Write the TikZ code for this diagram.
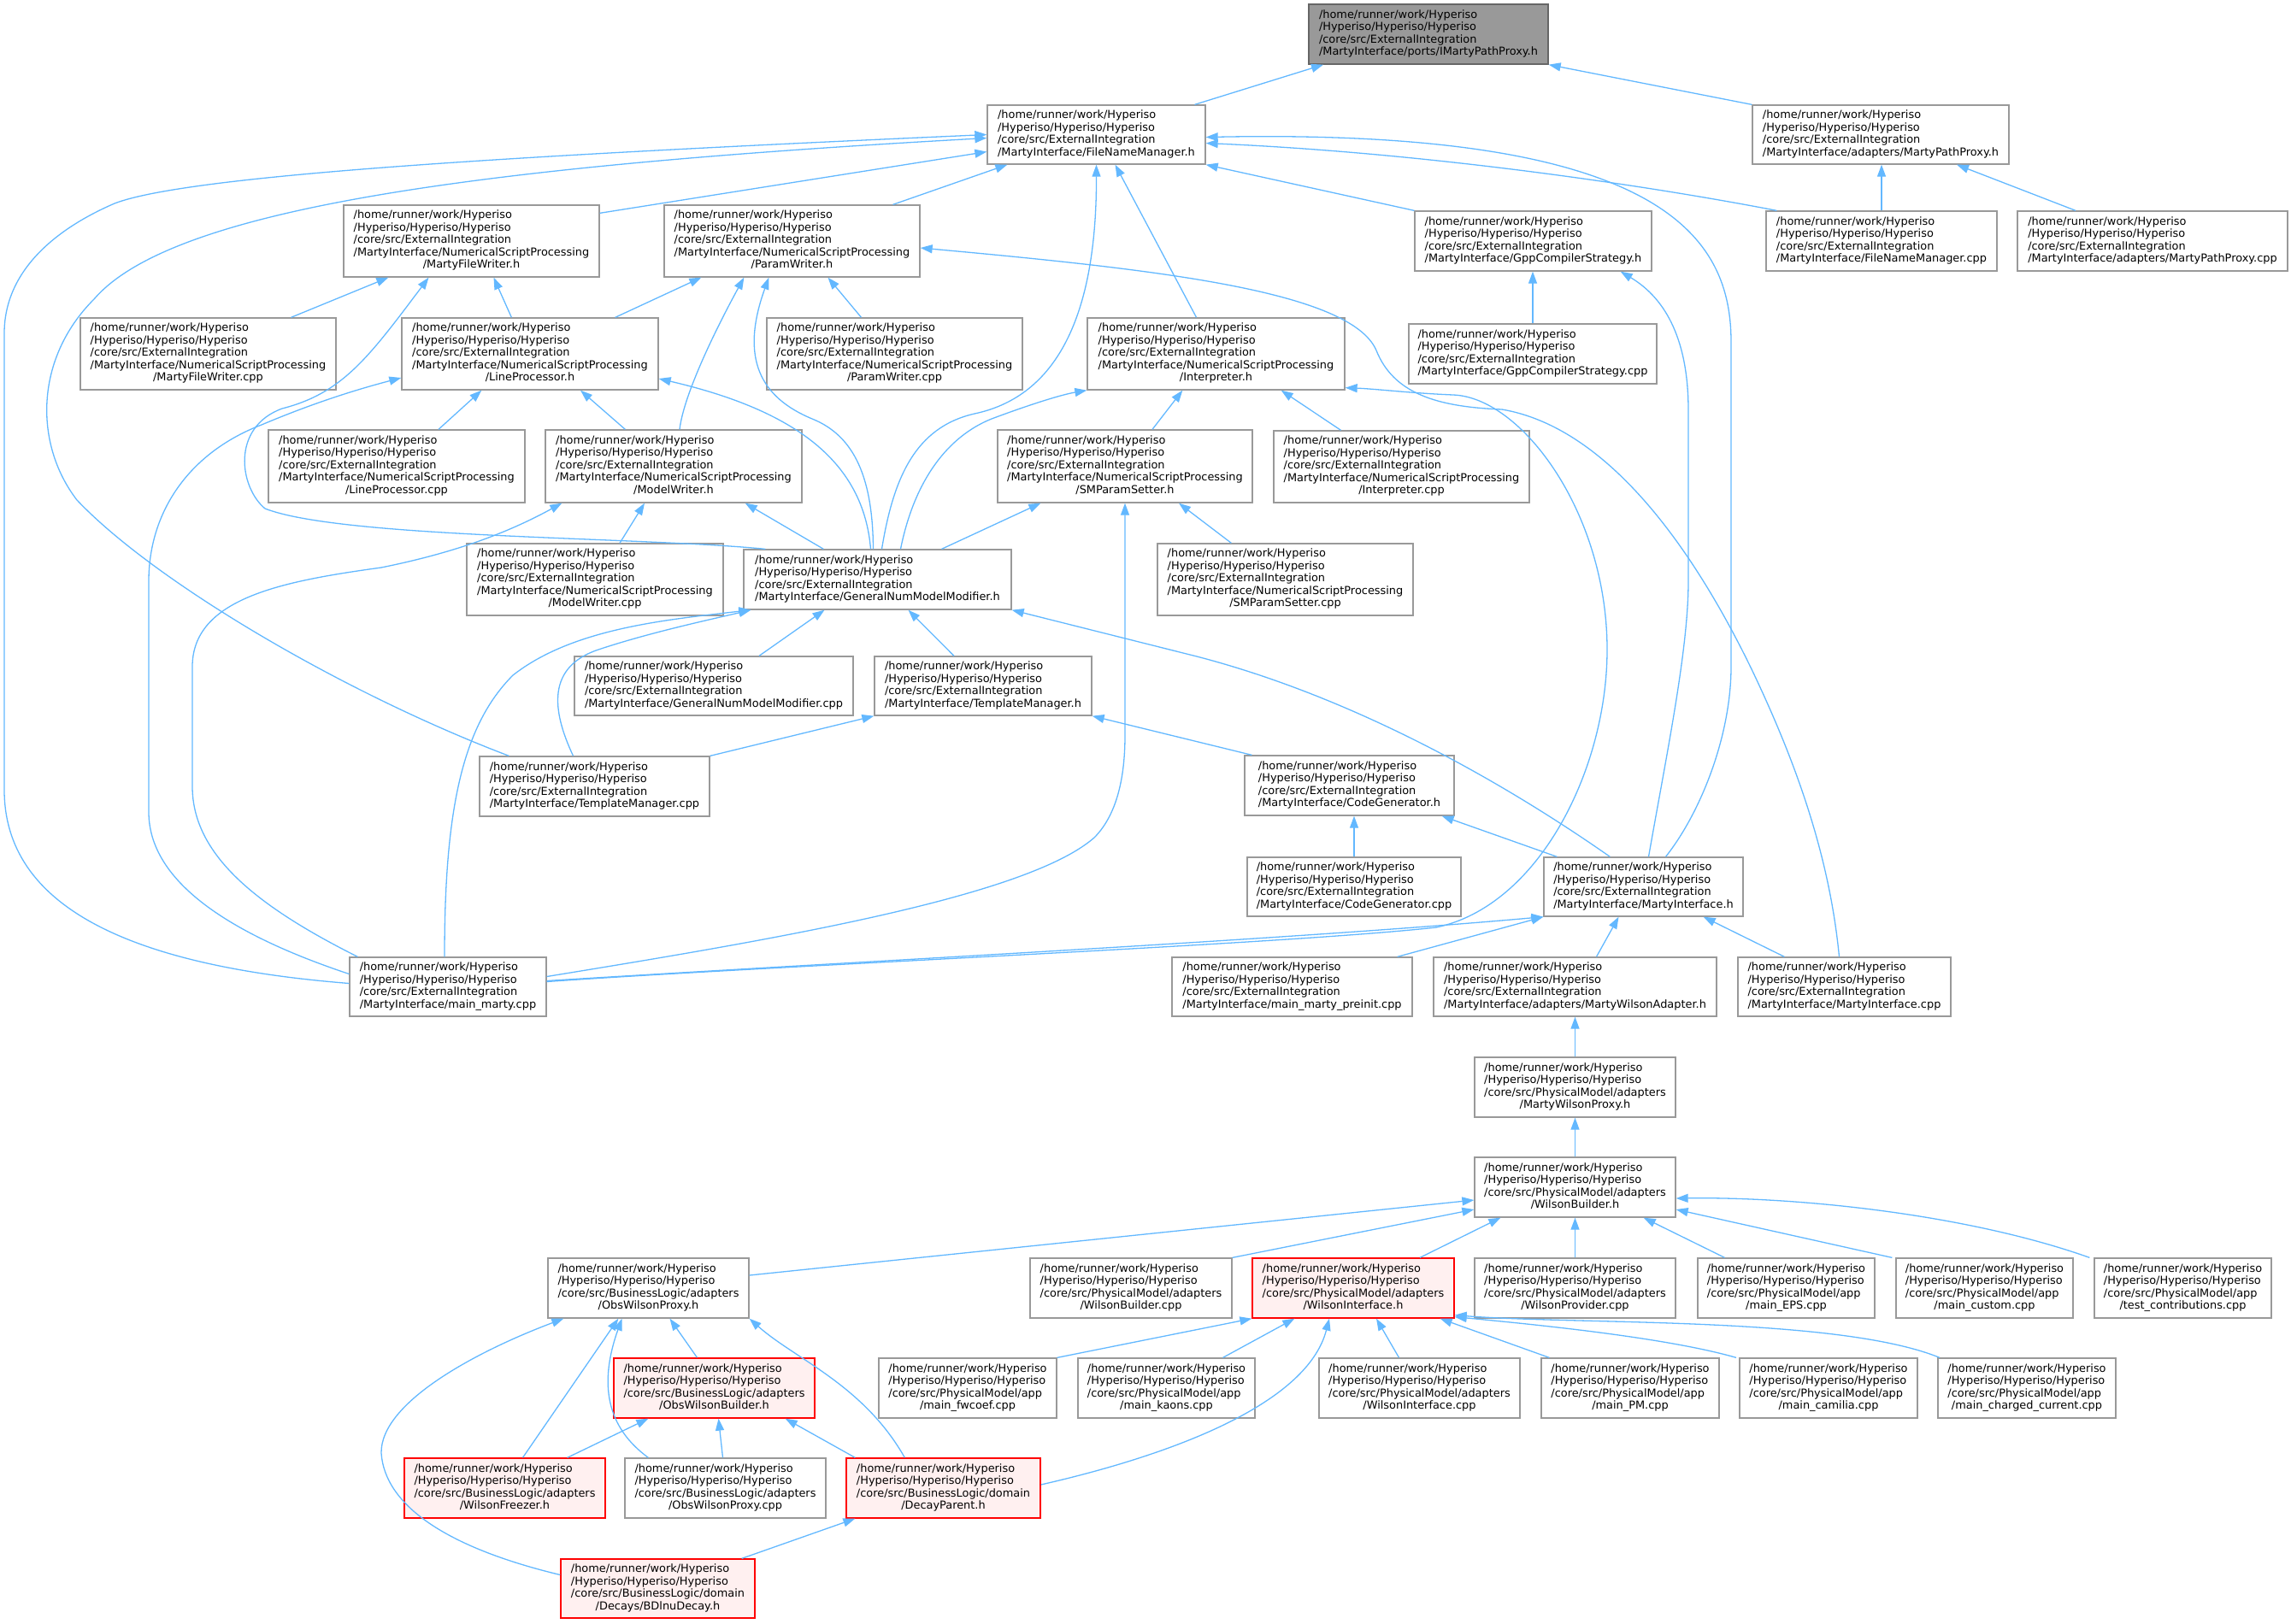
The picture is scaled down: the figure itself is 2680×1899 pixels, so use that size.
\documentclass[tikz,border=0pt]{standalone}
\usepackage{fontspec}
\setmainfont{DejaVu Sans}
\usetikzlibrary{arrows.meta}

\definecolor{edgeblue}{HTML}{63B8FF}
\definecolor{nodegray}{HTML}{999999}
\definecolor{targetgray}{HTML}{999999}
\definecolor{targetborder}{HTML}{666666}
\definecolor{truncfill}{HTML}{FFF0F0}

% label: all lines flush left, the last one centred
\newcommand{\incpath}[2]{\begin{tabular}{@{}l@{}}#1\\\multicolumn{1}{@{}c@{}}{#2}\end{tabular}}
\newcommand{\hyproot}{/home/runner/work/Hyperiso\\/Hyperiso/Hyperiso/Hyperiso}

\begin{document}
\begin{tikzpicture}[
  x=1pt, y=-1pt,
  font=\fontsize{12.9}{14.5}\selectfont,
  file/.style={draw=nodegray, fill=white, line width=1.3pt, inner sep=0pt},
  target/.style={file, draw=targetborder, fill=targetgray},
  truncated/.style={file, draw=red, fill=truncfill},
  includes/.style={->, >={Triangle[length=14pt,width=10pt]}, draw=edgeblue, line width=1.3pt}]

  \useasboundingbox (0,0) rectangle (2680,1899);

  % External integration: header rows
  \node[target, minimum width=280pt, minimum height=70pt] (ports-proxy) at (1671,40)
    {\incpath{\hyproot\\/core/src/ExternalIntegration}{/MartyInterface/ports/IMartyPathProxy.h}};
  \node[file, minimum width=255pt, minimum height=69pt] (filename-h) at (1282.5,157.5)
    {\incpath{\hyproot\\/core/src/ExternalIntegration}{/MartyInterface/FileNameManager.h}};
  \node[file, minimum width=300pt, minimum height=69pt] (pathproxy-h) at (2200,157.5)
    {\incpath{\hyproot\\/core/src/ExternalIntegration}{/MartyInterface/adapters/MartyPathProxy.h}};
  \node[file, minimum width=299pt, minimum height=84pt] (filewriter-h) at (551.5,282)
    {\incpath{\hyproot\\/core/src/ExternalIntegration\\/MartyInterface/NumericalScriptProcessing}{/MartyFileWriter.h}};
  \node[file, minimum width=299pt, minimum height=84pt] (paramwriter-h) at (926.5,282)
    {\incpath{\hyproot\\/core/src/ExternalIntegration\\/MartyInterface/NumericalScriptProcessing}{/ParamWriter.h}};
  \node[file, minimum width=277pt, minimum height=70pt] (gpp-h) at (1793.5,282)
    {\incpath{\hyproot\\/core/src/ExternalIntegration}{/MartyInterface/GppCompilerStrategy.h}};
  \node[file, minimum width=270pt, minimum height=70pt] (filename-cpp) at (2201,282)
    {\incpath{\hyproot\\/core/src/ExternalIntegration}{/MartyInterface/FileNameManager.cpp}};
  \node[file, minimum width=316pt, minimum height=70pt] (pathproxy-cpp) at (2518,282)
    {\incpath{\hyproot\\/core/src/ExternalIntegration}{/MartyInterface/adapters/MartyPathProxy.cpp}};
  \node[file, minimum width=299pt, minimum height=84pt] (filewriter-cpp) at (243.5,414)
    {\incpath{\hyproot\\/core/src/ExternalIntegration\\/MartyInterface/NumericalScriptProcessing}{/MartyFileWriter.cpp}};
  \node[file, minimum width=300pt, minimum height=84pt] (lineproc-h) at (620,414)
    {\incpath{\hyproot\\/core/src/ExternalIntegration\\/MartyInterface/NumericalScriptProcessing}{/LineProcessor.h}};
  \node[file, minimum width=299pt, minimum height=84pt] (paramwriter-cpp) at (1046.5,414)
    {\incpath{\hyproot\\/core/src/ExternalIntegration\\/MartyInterface/NumericalScriptProcessing}{/ParamWriter.cpp}};
  \node[file, minimum width=301pt, minimum height=84pt] (interpreter-h) at (1422.5,414)
    {\incpath{\hyproot\\/core/src/ExternalIntegration\\/MartyInterface/NumericalScriptProcessing}{/Interpreter.h}};
  \node[file, minimum width=290pt, minimum height=70pt] (gpp-cpp) at (1793,414)
    {\incpath{\hyproot\\/core/src/ExternalIntegration}{/MartyInterface/GppCompilerStrategy.cpp}};
  \node[file, minimum width=300pt, minimum height=85pt] (lineproc-cpp) at (464,545.5)
    {\incpath{\hyproot\\/core/src/ExternalIntegration\\/MartyInterface/NumericalScriptProcessing}{/LineProcessor.cpp}};
  \node[file, minimum width=300pt, minimum height=85pt] (modelwriter-h) at (788,545.5)
    {\incpath{\hyproot\\/core/src/ExternalIntegration\\/MartyInterface/NumericalScriptProcessing}{/ModelWriter.h}};
  \node[file, minimum width=298pt, minimum height=85pt] (smparam-h) at (1316,545.5)
    {\incpath{\hyproot\\/core/src/ExternalIntegration\\/MartyInterface/NumericalScriptProcessing}{/SMParamSetter.h}};
  \node[file, minimum width=299pt, minimum height=84pt] (interpreter-cpp) at (1639.5,546)
    {\incpath{\hyproot\\/core/src/ExternalIntegration\\/MartyInterface/NumericalScriptProcessing}{/Interpreter.cpp}};
  \node[file, minimum width=300pt, minimum height=84pt] (modelwriter-cpp) at (696,678)
    {\incpath{\hyproot\\/core/src/ExternalIntegration\\/MartyInterface/NumericalScriptProcessing}{/ModelWriter.cpp}};
  \node[file, minimum width=313pt, minimum height=70pt] (nummodifier-h) at (1026.5,678)
    {\incpath{\hyproot\\/core/src/ExternalIntegration}{/MartyInterface/GeneralNumModelModifier.h}};
  \node[file, minimum width=299pt, minimum height=84pt] (smparam-cpp) at (1503.5,678)
    {\incpath{\hyproot\\/core/src/ExternalIntegration\\/MartyInterface/NumericalScriptProcessing}{/SMParamSetter.cpp}};
  \node[file, minimum width=326pt, minimum height=69pt] (nummodifier-cpp) at (835,802.5)
    {\incpath{\hyproot\\/core/src/ExternalIntegration}{/MartyInterface/GeneralNumModelModifier.cpp}};
  \node[file, minimum width=254pt, minimum height=69pt] (template-h) at (1150,802.5)
    {\incpath{\hyproot\\/core/src/ExternalIntegration}{/MartyInterface/TemplateManager.h}};
  \node[file, minimum width=269pt, minimum height=70pt] (template-cpp) at (695.5,920)
    {\incpath{\hyproot\\/core/src/ExternalIntegration}{/MartyInterface/TemplateManager.cpp}};
  \node[file, minimum width=245pt, minimum height=70pt] (codegen-h) at (1578.5,919)
    {\incpath{\hyproot\\/core/src/ExternalIntegration}{/MartyInterface/CodeGenerator.h}};
  \node[file, minimum width=250pt, minimum height=69pt] (codegen-cpp) at (1584,1037.5)
    {\incpath{\hyproot\\/core/src/ExternalIntegration}{/MartyInterface/CodeGenerator.cpp}};
  \node[file, minimum width=233pt, minimum height=69pt] (interface-h) at (1922.5,1037.5)
    {\incpath{\hyproot\\/core/src/ExternalIntegration}{/MartyInterface/MartyInterface.h}};
  \node[file, minimum width=230pt, minimum height=69pt] (main-marty) at (524,1154.5)
    {\incpath{\hyproot\\/core/src/ExternalIntegration}{/MartyInterface/main\_marty.cpp}};
  \node[file, minimum width=281pt, minimum height=69pt] (main-preinit) at (1511.5,1154.5)
    {\incpath{\hyproot\\/core/src/ExternalIntegration}{/MartyInterface/main\_marty\_preinit.cpp}};
  \node[file, minimum width=331pt, minimum height=69pt] (wilson-adapter-h) at (1842.5,1154.5)
    {\incpath{\hyproot\\/core/src/ExternalIntegration}{/MartyInterface/adapters/MartyWilsonAdapter.h}};
  \node[file, minimum width=249pt, minimum height=69pt] (interface-cpp) at (2157.5,1154.5)
    {\incpath{\hyproot\\/core/src/ExternalIntegration}{/MartyInterface/MartyInterface.cpp}};

  % Physical model and business logic
  \node[file, minimum width=235pt, minimum height=70pt] (wilson-proxy-h) at (1842.5,1272)
    {\incpath{\hyproot\\/core/src/PhysicalModel/adapters}{/MartyWilsonProxy.h}};
  \node[file, minimum width=235pt, minimum height=70pt] (builder-h) at (1842.5,1389)
    {\incpath{\hyproot\\/core/src/PhysicalModel/adapters}{/WilsonBuilder.h}};
  \node[file, minimum width=235pt, minimum height=70pt] (obs-proxy-h) at (758.5,1507)
    {\incpath{\hyproot\\/core/src/BusinessLogic/adapters}{/ObsWilsonProxy.h}};
  \node[file, minimum width=236pt, minimum height=70pt] (builder-cpp) at (1323,1507)
    {\incpath{\hyproot\\/core/src/PhysicalModel/adapters}{/WilsonBuilder.cpp}};
  \node[truncated, minimum width=236pt, minimum height=70pt] (winterface-h) at (1583,1507)
    {\incpath{\hyproot\\/core/src/PhysicalModel/adapters}{/WilsonInterface.h}};
  \node[file, minimum width=235pt, minimum height=70pt] (provider-cpp) at (1842.5,1507)
    {\incpath{\hyproot\\/core/src/PhysicalModel/adapters}{/WilsonProvider.cpp}};
  \node[file, minimum width=207pt, minimum height=70pt] (main-eps) at (2089.5,1507)
    {\incpath{\hyproot\\/core/src/PhysicalModel/app}{/main\_EPS.cpp}};
  \node[file, minimum width=207pt, minimum height=70pt] (main-custom) at (2321.5,1507)
    {\incpath{\hyproot\\/core/src/PhysicalModel/app}{/main\_custom.cpp}};
  \node[file, minimum width=207pt, minimum height=70pt] (test-contrib) at (2553.5,1507)
    {\incpath{\hyproot\\/core/src/PhysicalModel/app}{/test\_contributions.cpp}};
  \node[truncated, minimum width=235pt, minimum height=70pt] (obs-builder-h) at (835.5,1624)
    {\incpath{\hyproot\\/core/src/BusinessLogic/adapters}{/ObsWilsonBuilder.h}};
  \node[file, minimum width=208pt, minimum height=70pt] (main-fwcoef) at (1132,1624)
    {\incpath{\hyproot\\/core/src/PhysicalModel/app}{/main\_fwcoef.cpp}};
  \node[file, minimum width=207pt, minimum height=70pt] (main-kaons) at (1364.5,1624)
    {\incpath{\hyproot\\/core/src/PhysicalModel/app}{/main\_kaons.cpp}};
  \node[file, minimum width=235pt, minimum height=70pt] (winterface-cpp) at (1660.5,1624)
    {\incpath{\hyproot\\/core/src/PhysicalModel/adapters}{/WilsonInterface.cpp}};
  \node[file, minimum width=208pt, minimum height=70pt] (main-pm) at (1907,1624)
    {\incpath{\hyproot\\/core/src/PhysicalModel/app}{/main\_PM.cpp}};
  \node[file, minimum width=208pt, minimum height=70pt] (main-camilia) at (2139,1624)
    {\incpath{\hyproot\\/core/src/PhysicalModel/app}{/main\_camilia.cpp}};
  \node[file, minimum width=208pt, minimum height=70pt] (main-charged) at (2371,1624)
    {\incpath{\hyproot\\/core/src/PhysicalModel/app}{/main\_charged\_current.cpp}};
  \node[truncated, minimum width=235pt, minimum height=70pt] (freezer-h) at (590.5,1741)
    {\incpath{\hyproot\\/core/src/BusinessLogic/adapters}{/WilsonFreezer.h}};
  \node[file, minimum width=235pt, minimum height=70pt] (obs-proxy-cpp) at (848.5,1741)
    {\incpath{\hyproot\\/core/src/BusinessLogic/adapters}{/ObsWilsonProxy.cpp}};
  \node[truncated, minimum width=227pt, minimum height=70pt] (decay-parent-h) at (1103.5,1741)
    {\incpath{\hyproot\\/core/src/BusinessLogic/domain}{/DecayParent.h}};
  \node[truncated, minimum width=227pt, minimum height=69pt] (bdlnu-decay-h) at (769.5,1858.5)
    {\incpath{\hyproot\\/core/src/BusinessLogic/domain}{/Decays/BDlnuDecay.h}};

  % include edges, arrow at the included file
  \draw[includes] ([xshift=115pt]filename-h.north) -- ([xshift=-123pt]ports-proxy.south);
  \draw[includes] (pathproxy-h.north west) -- (ports-proxy.south east);
  \draw[includes] (filename-cpp.north) -- (filename-cpp.north |- pathproxy-h.south);
  \draw[includes] ([xshift=-90pt]pathproxy-cpp.north) -- ([xshift=89pt]pathproxy-h.south);
  \draw[includes] ([xshift=13pt]filename-cpp.north west) .. controls (1900,212) and (1650,178) .. ([yshift=-10pt]filename-h.east);
  \draw[includes] (gpp-h.north west) -- (filename-h.south east);
  \draw[includes] ([yshift=-10pt]filewriter-h.north east) -- ([yshift=-20pt]filename-h.west);
  \draw[includes] ([xshift=118pt]paramwriter-h.north) -- ([xshift=24pt]filename-h.south west);
  \draw[includes] ([xshift=-23pt]interpreter-h.north) -- ([xshift=22pt]filename-h.south);
  \draw[includes] ([xshift=5pt]nummodifier-h.north) .. controls (1045,560) and (1070,500) .. (1140,484)
    .. controls (1230,465) and (1283,380) .. (filename-h.south);
  \draw[includes] ([xshift=26pt]interface-h.north) .. controls (1990,950) and (2025,860) .. (2025,780) -- (2025,400)
    .. controls (2025,280) and (1950,150) .. ([yshift=-3pt]filename-h.east);
  \draw[includes] ([xshift=35pt]template-cpp.north west) .. controls (400,810) and (180,680) .. (90,585)
    .. controls (40,520) and (40,420) .. (110,350) .. controls (200,245) and (550,195) .. ([yshift=-4pt]filename-h.west);
  \draw[includes] ([yshift=4pt]main-marty.west) .. controls (150,1130) and (5,1060) .. (5,924) -- (5,390)
    .. controls (5,320) and (60,270) .. (134,238) .. controls (220,205) and (600,182) .. (filename-h.west);
  \draw[includes] (gpp-cpp.north) -- (gpp-cpp.north |- gpp-h.south);
  \draw[includes] ([xshift=6pt]interface-h.north) .. controls (1950,880) and (1975,760) .. (1975,680) -- (1975,480)
    .. controls (1975,400) and (1950,350) .. ([xshift=-37pt]gpp-h.south east);
  \draw[includes] ([xshift=97pt]filewriter-cpp.north) -- ([xshift=53pt]filewriter-h.south west);
  \draw[includes] ([xshift=129pt]lineproc-h.north west) -- ([xshift=26pt]filewriter-h.south);
  \draw[includes] ([xshift=26pt]nummodifier-h.north west) .. controls (750,628) and (400,630) .. (310,595)
    .. controls (280,570) and (270,500) .. (330,478) .. controls (400,460) and (430,420) .. ([xshift=-50pt]filewriter-h.south);
  \draw[includes] ([xshift=-51pt]lineproc-h.north east) -- ([xshift=44pt]paramwriter-h.south west);
  \draw[includes] ([xshift=7pt]modelwriter-h.north) .. controls (800,460) and (840,380) .. ([xshift=94pt]paramwriter-h.south west);
  \draw[includes] ([xshift=-5pt]nummodifier-h.north) .. controls (1021,560) and (1000,510) .. (950,490)
    .. controls (890,465) and (865,420) .. ([xshift=123pt]paramwriter-h.south west);
  \draw[includes] ([xshift=-39pt]paramwriter-cpp.north) -- ([xshift=42pt]paramwriter-h.south);
  \draw[includes] ([xshift=-6pt]interface-cpp.north) .. controls (2140,1000) and (2100,890) .. (2050,785)
    .. controls (1980,640) and (1880,500) .. (1757,479) .. controls (1680,476) and (1630,460) .. (1610,410)
    .. controls (1580,340) and (1350,315) .. ([yshift=-8pt]paramwriter-h.east);
  \draw[includes] ([xshift=49pt]lineproc-cpp.north) -- ([xshift=94pt]lineproc-h.south west);
  \draw[includes] ([xshift=94pt]modelwriter-h.north west) -- ([xshift=59pt]lineproc-h.south);
  \draw[includes] ([xshift=-8pt]nummodifier-h.north) .. controls (1010,540) and (930,480) .. ([yshift=-29pt]lineproc-h.east);
  \draw[includes] ([yshift=15pt]main-marty.west) .. controls (290,1100) and (174,1040) .. (174,950) -- (174,680)
    .. controls (174,600) and (220,530) .. (306,497) .. controls (370,470) and (420,455) .. ([yshift=-28pt]lineproc-h.west);
  \draw[includes] ([xshift=-71pt]interpreter-cpp.north) -- ([xshift=-75pt]interpreter-h.south east);
  \draw[includes] ([xshift=32pt]smparam-h.north) -- ([xshift=112pt]interpreter-h.south west);
  \draw[includes] ([xshift=27pt]nummodifier-h.north) .. controls (1070,560) and (1110,510) .. (1160,490)
    .. controls (1200,475) and (1240,462) .. (interpreter-h.south west);
  \draw[includes] ([yshift=6pt]main-marty.east) .. controls (900,1130) and (1500,1105) .. (1680,1085)
    .. controls (1800,1060) and (1880,900) .. (1880,760) .. controls (1880,600) and (1780,465) .. (1700,462)
    .. controls (1650,460) and (1610,455) .. ([yshift=3pt]interpreter-h.south east);
  \draw[includes] ([yshift=7pt]main-marty.east) .. controls (1000,1125) and (1500,1100) .. (interface-h.south west);
  \draw[includes] ([yshift=12pt]main-marty.east) .. controls (900,1100) and (1200,1050) .. (1280,980)
    .. controls (1310,950) and (1316,900) .. (1316,860) -- (smparam-h.south);
  \draw[includes] ([xshift=75pt]nummodifier-h.north) -- ([xshift=51pt]smparam-h.south west);
  \draw[includes] ([xshift=87pt]smparam-cpp.north west) -- ([xshift=63pt]smparam-h.south);
  \draw[includes] ([xshift=29pt]modelwriter-cpp.north) -- ([xshift=-34pt]modelwriter-h.south);
  \draw[includes] ([xshift=94pt]nummodifier-h.north west) -- ([xshift=-67pt]modelwriter-h.south east);
  \draw[includes] ([xshift=10pt]main-marty.north west) .. controls (300,1060) and (225,1000) .. (225,920) -- (225,780)
    .. controls (225,700) and (330,680) .. (446,664) .. controls (540,645) and (600,620) .. ([xshift=20pt]modelwriter-h.south west);
  \draw[includes] ([xshift=-4pt]main-marty.north) .. controls (520,950) and (540,850) .. (600,790)
    .. controls (670,735) and (780,725) .. ([xshift=9pt]nummodifier-h.south west);
  \draw[includes] ([xshift=-25pt]template-cpp.north) .. controls (645,830) and (640,780) .. (700,760)
    .. controls (760,740) and (830,725) .. ([xshift=9pt]nummodifier-h.south west);
  \draw[includes] ([xshift=53pt]nummodifier-cpp.north) -- ([xshift=-62pt]nummodifier-h.south);
  \draw[includes] ([xshift=-34pt]template-h.north) -- ([xshift=36pt]nummodifier-h.south);
  \draw[includes] ([xshift=78pt]interface-h.north west) .. controls (1780,930) and (1600,820) .. (1400,768) -- (nummodifier-h.south east);
  \draw[includes] (template-cpp.north east) -- (template-h.south west);
  \draw[includes] ([xshift=9pt]codegen-h.north west) -- (template-h.south east);
  \draw[includes] (codegen-cpp.north) -- (codegen-cpp.north |- codegen-h.south);
  \draw[includes] ([xshift=16pt]interface-h.north west) -- ([xshift=-15pt]codegen-h.south east);
  \draw[includes] ([xshift=-18pt]main-preinit.north east) -- (interface-h.south west);
  \draw[includes] ([xshift=25pt]wilson-adapter-h.north) -- ([xshift=-29pt]interface-h.south);
  \draw[includes] ([xshift=55pt]interface-cpp.north west) -- ([xshift=-47pt]interface-h.south east);
  \draw[includes] (wilson-proxy-h) -- (wilson-adapter-h);
  \draw[includes] (builder-h) -- (wilson-proxy-h);
  \draw[includes] ([yshift=15pt]obs-proxy-h.east) -- ([yshift=-15pt]builder-h.west);
  \draw[includes] (builder-cpp.north east) -- ([yshift=-26pt]builder-h.west);
  \draw[includes] ([xshift=78pt]winterface-h.north) -- ([xshift=31pt]builder-h.south west);
  \draw[includes] (provider-cpp) -- (builder-h);
  \draw[includes] ([xshift=-72pt]main-eps.north) -- ([xshift=-38pt]builder-h.south east);
  \draw[includes] ([xshift=-4pt]main-custom.north west) -- ([yshift=-26pt]builder-h.east);
  \draw[includes] ([xshift=-5pt]test-contrib.north west) .. controls (2300,1420) and (2100,1400) .. ([yshift=-13pt]builder-h.east);
  \draw[includes] (main-fwcoef.north east) -- (winterface-h.south west);
  \draw[includes] ([xshift=66pt]main-kaons.north) -- ([xshift=50pt]winterface-h.south west);
  \draw[includes] ([xshift=-24pt]winterface-cpp.north) -- ([xshift=27pt]winterface-h.south);
  \draw[includes] ([xshift=10pt]main-pm.north west) -- ([xshift=-17pt]winterface-h.south east);
  \draw[includes] ([xshift=-108pt]main-camilia.north) .. controls (1950,1565) and (1800,1550) .. ([yshift=2pt]winterface-h.south east);
  \draw[includes] ([xshift=-102pt]main-charged.north) .. controls (2150,1540) and (1850,1550) .. ([yshift=4pt]winterface-h.south east);
  \draw[includes] ([yshift=4pt]decay-parent-h.east) .. controls (1380,1700) and (1530,1640) .. ([xshift=-28pt]winterface-h.south);
  \draw[includes] ([xshift=-20pt]obs-builder-h.north) -- ([xshift=25pt]obs-proxy-h.south);
  \draw[includes] ([xshift=69pt]decay-parent-h.north west) .. controls (1010,1620) and (930,1590) .. (obs-proxy-h.south east);
  \draw[includes] ([yshift=16pt]bdlnu-decay-h.west) .. controls (520,1810) and (450,1760) .. (446,1700)
    .. controls (445,1640) and (560,1580) .. ([xshift=19pt]obs-proxy-h.south west);
  \draw[includes] ([xshift=21pt]freezer-h.north) -- ([xshift=83pt]obs-proxy-h.south west);
  \draw[includes] ([xshift=28pt]obs-proxy-cpp.north west) .. controls (710,1670) and (700,1620) .. ([xshift=-31pt]obs-proxy-h.south);
  \draw[includes] ([xshift=-45pt]freezer-h.north east) -- ([xshift=41pt]obs-builder-h.south west);
  \draw[includes] ([xshift=-3pt]obs-proxy-cpp.north) -- ([xshift=5pt]obs-builder-h.south);
  \draw[includes] ([xshift=11pt]decay-parent-h.north west) -- ([xshift=-35pt]obs-builder-h.south east);
  \draw[includes] ([xshift=-16pt]bdlnu-decay-h.north east) -- ([xshift=11pt]decay-parent-h.south west);

\end{tikzpicture}
\end{document}
